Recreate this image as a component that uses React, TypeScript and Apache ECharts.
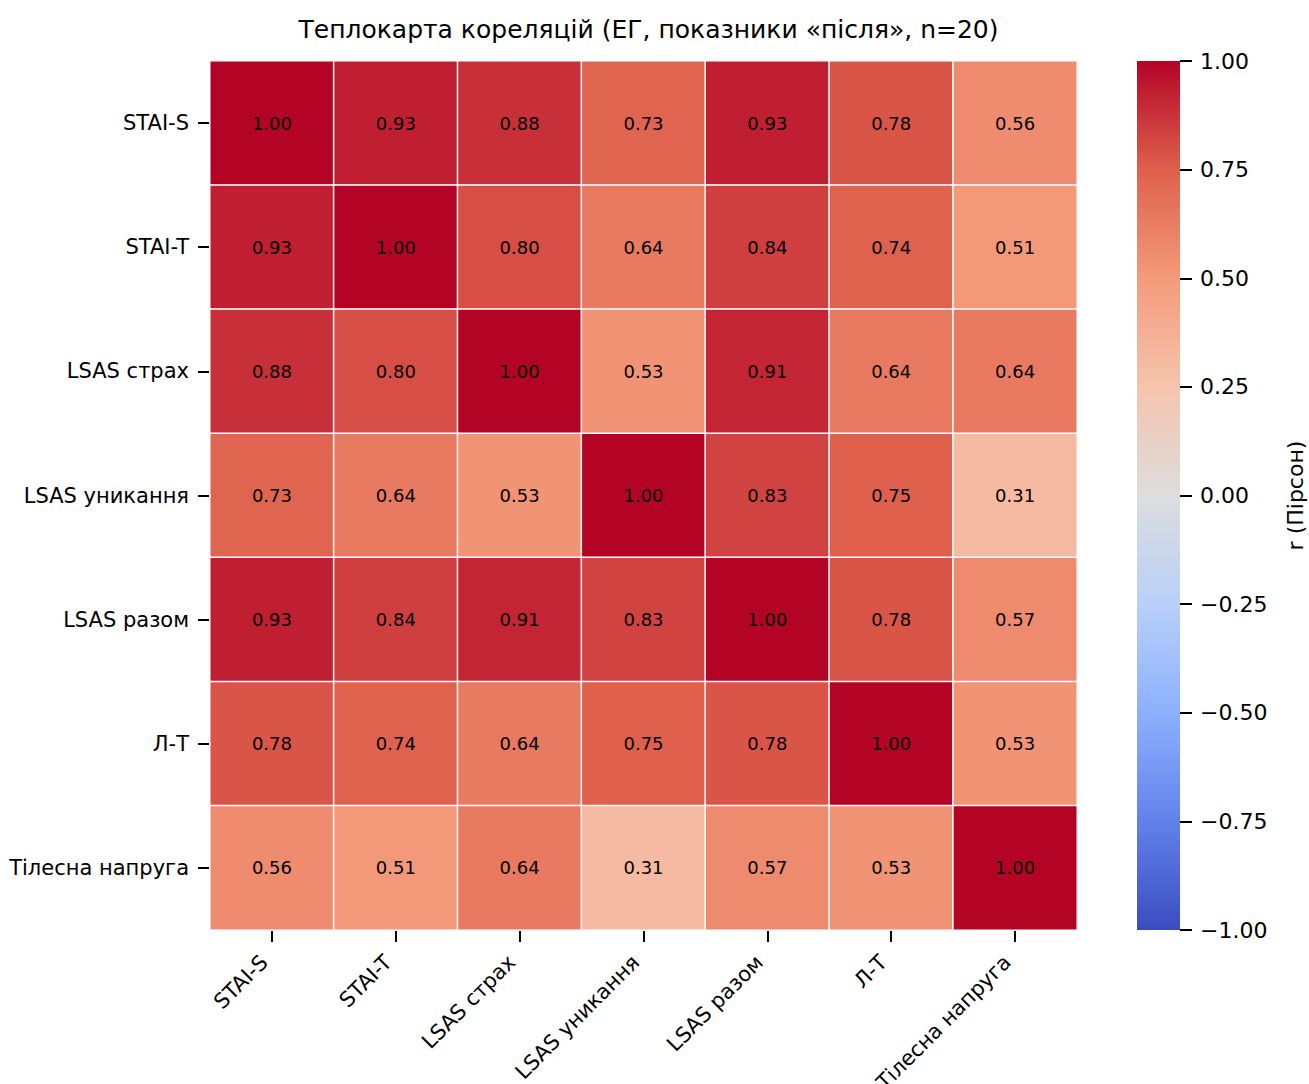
import React, { useEffect, useRef } from "react";
import * as echarts from "echarts";

// Variable names (rows top-to-bottom, columns left-to-right)
const variables = [
  "STAI-S",
  "STAI-T",
  "LSAS страх",
  "LSAS уникання",
  "LSAS разом",
  "Л-Т",
  "Тілесна напруга",
];

// Pearson correlation matrix, one array per row
const rowStaiS = [1.0, 0.93, 0.88, 0.73, 0.93, 0.78, 0.56];
const rowStaiT = [0.93, 1.0, 0.8, 0.64, 0.84, 0.74, 0.51];
const rowLsasFear = [0.88, 0.8, 1.0, 0.53, 0.91, 0.64, 0.64];
const rowLsasAvoid = [0.73, 0.64, 0.53, 1.0, 0.83, 0.75, 0.31];
const rowLsasTotal = [0.93, 0.84, 0.91, 0.83, 1.0, 0.78, 0.57];
const rowLT = [0.78, 0.74, 0.64, 0.75, 0.78, 1.0, 0.53];
const rowBody = [0.56, 0.51, 0.64, 0.31, 0.57, 0.53, 1.0];
const matrixRows = [rowStaiS, rowStaiT, rowLsasFear, rowLsasAvoid, rowLsasTotal, rowLT, rowBody];

// Colour scale limits and colourbar ticks
const scaleMin = -1;
const scaleMax = 1;
const colorbarStep = 0.25;

// coolwarm colour stops, low to high
const coolwarm = [
  "#3b4cc0",
  "#6282ea",
  "#8db0fe",
  "#b8d0f9",
  "#dddddd",
  "#f5c4ad",
  "#f49a7b",
  "#de604d",
  "#b40426",
];

const FONT = "DejaVu Sans";

// Layout of the heatmap and the colourbar
const heatBox = { left: 210, top: 61, width: 867, height: 869 };
const barBox = { left: 1137, top: 61, width: 43, height: 869 };

export default function App() {
  const ref = useRef<HTMLDivElement>(null);

  useEffect(() => {
    document.body.style.margin = "0";
    if (!ref.current) return;
    const chart = echarts.init(ref.current, null, { renderer: "svg" });

    const cells: [number, number, number][] = [];
    matrixRows.forEach((row, r) => row.forEach((v, c) => cells.push([c, r, v])));

    const fmtTick = (v: number) => {
      const s = Math.abs(v).toFixed(2);
      return v < -1e-9 ? "\u2212" + s : s;
    };

    const tickStyle = { color: "#000", width: 2 };

    // Colourbar gradient runs top (max) to bottom (min)
    const gradientStops = coolwarm
      .slice()
      .reverse()
      .map((color, i, arr) => ({ offset: i / (arr.length - 1), color }));

    chart.setOption({
      animation: false,
      backgroundColor: "#ffffff",
      textStyle: { fontFamily: FONT, color: "#000" },
      title: {
        text: "Теплокарта кореляцій (ЕГ, показники «після», n=20)",
        left: 643.5,
        textAlign: "center",
        top: 12,
        textStyle: { fontFamily: FONT, fontSize: 25, fontWeight: "normal", color: "#000" },
      },
      grid: [
        { ...heatBox, containLabel: false, outerBoundsMode: "none" },
        { ...barBox, containLabel: false, outerBoundsMode: "none" },
      ],
      xAxis: [
        {
          type: "category",
          gridIndex: 0,
          data: variables,
          axisLine: { show: false },
          axisTick: { show: true, alignWithLabel: true, length: 12, lineStyle: tickStyle },
          axisLabel: {
            rotate: 45,
            interval: 0,
            margin: 21,
            padding: [0, 11, 0, 0],
            fontFamily: FONT,
            fontSize: 21,
            color: "#000",
          },
          splitLine: { show: false },
        },
        { type: "category", gridIndex: 1, show: false, data: [""] },
      ],
      yAxis: [
        {
          type: "category",
          gridIndex: 0,
          data: variables,
          inverse: true,
          axisLine: { show: false },
          axisTick: { show: true, alignWithLabel: true, length: 12, lineStyle: tickStyle },
          axisLabel: { interval: 0, margin: 21, fontFamily: FONT, fontSize: 21, color: "#000" },
          splitLine: { show: false },
        },
        {
          type: "value",
          gridIndex: 1,
          position: "right",
          min: scaleMin,
          max: scaleMax,
          interval: colorbarStep,
          axisLine: { show: false, onZero: false },
          axisTick: { show: true, inside: false, length: 12, lineStyle: tickStyle },
          axisLabel: { margin: 20, fontFamily: FONT, fontSize: 22, color: "#000", formatter: fmtTick },
          splitLine: { show: false },
          name: "r (Пірсон)",
          nameLocation: "middle",
          nameRotate: 90,
          nameGap: 104,
          nameTextStyle: { fontFamily: FONT, fontSize: 22, color: "#000" },
        },
      ],
      visualMap: {
        type: "continuous",
        min: scaleMin,
        max: scaleMax,
        seriesIndex: 0,
        show: false,
        inRange: { color: coolwarm },
      },
      graphic: [
        {
          type: "rect",
          left: barBox.left,
          top: barBox.top,
          shape: { width: barBox.width, height: barBox.height },
          style: {
            fill: new echarts.graphic.LinearGradient(0, 0, 0, 1, gradientStops),
          },
          silent: true,
          z: -10,
        },
      ],
      series: [
        {
          type: "heatmap",
          xAxisIndex: 0,
          yAxisIndex: 0,
          data: cells,
          itemStyle: { borderColor: "#ffffff", borderWidth: 1.5 },
          label: {
            show: true,
            fontFamily: FONT,
            fontSize: 18,
            color: "#000",
            formatter: (p: any) => (p.value[2] as number).toFixed(2),
          },
          emphasis: { disabled: true },
        },
        {
          type: "scatter",
          xAxisIndex: 1,
          yAxisIndex: 1,
          data: [],
        },
      ],
    });

    return () => chart.dispose();
  }, []);

  return <div ref={ref} style={{ width: 1309, height: 1084 }} />;
}
